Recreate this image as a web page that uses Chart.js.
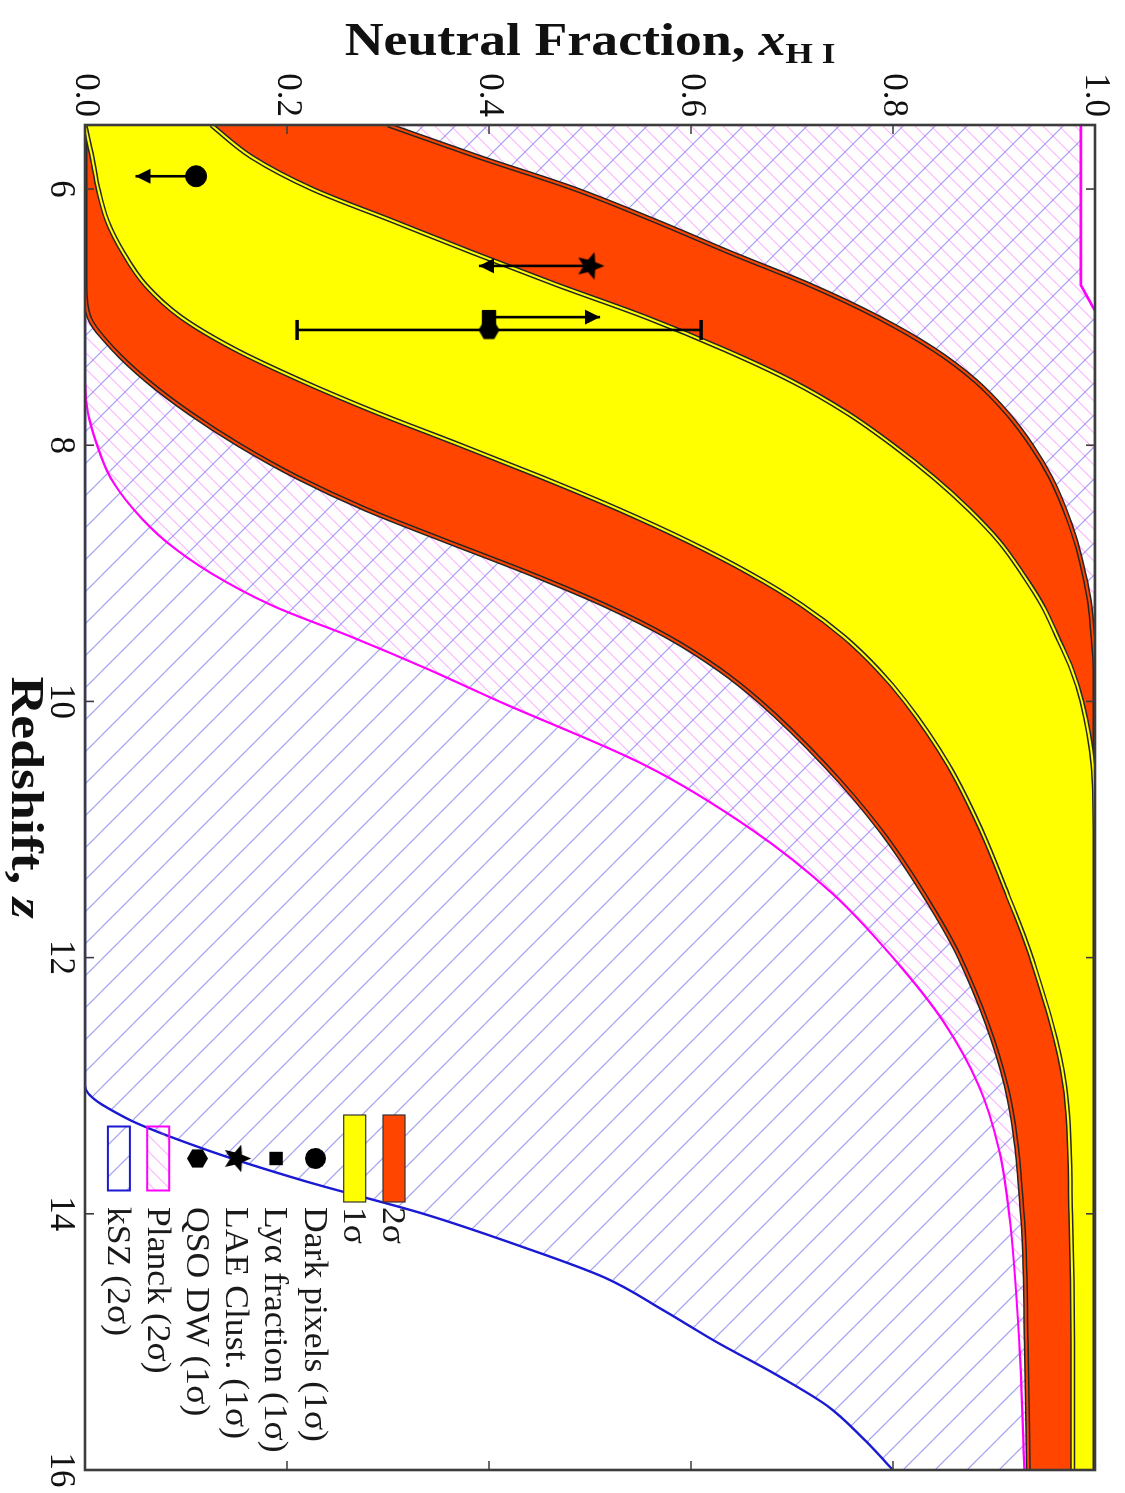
<!DOCTYPE html>
<html>
<head>
<meta charset="utf-8">
<title>Reionization history</title>
<script src="https://cdn.jsdelivr.net/npm/chart.js@4.4.1/dist/chart.umd.min.js"></script>
<style>
  html, body { margin: 0; padding: 0; background: #fff; width: 1125px; height: 1493px; overflow: hidden; }
  /* the figure is laid out landscape and turned a quarter clockwise onto the page */
  #turn { position: absolute; left: 0; top: 0; width: 1493px; height: 1125px;
          transform-origin: 0 0; transform: translate(1125px, 0) rotate(90deg); }
</style>
</head>
<body>
<div id="turn"><canvas id="xhi-chart" width="1493" height="1125"></canvas></div>
<script>
(function () {
    "use strict";

    var SERIF = "'Liberation Serif', 'Times New Roman', serif";
    var ORANGE = '#ff4500', YELLOW = '#ffff00', EDGE = '#262626';
    var MAGENTA = '#ff00ff', BLUE = '#1a1ad2';

    /** Redshift grid shared by the 1σ / 2σ bands */
    var zBand     = [5.5, 5.75, 6.0, 6.25, 6.5, 6.75, 7.0, 7.25, 7.5, 7.75, 8.0, 8.25, 8.5, 8.75, 9.0, 9.25, 9.5, 9.75, 10.0, 10.5, 11.0, 11.5, 12.0, 13.0, 14.0, 15.0, 16.0];
    var sig2Upper = [0.30, 0.39, 0.485, 0.565, 0.64, 0.718, 0.785, 0.84, 0.882, 0.913, 0.937, 0.956, 0.97, 0.981, 0.989, 0.995, 0.998, 1.0, 1.0, 1.0, 1.0, 1.0, 1.0, 1.0, 1.0, 1.0, 1.0];
    var sig1Upper = [0.125, 0.165, 0.225, 0.305, 0.385, 0.468, 0.555, 0.632, 0.70, 0.755, 0.80, 0.84, 0.875, 0.905, 0.928, 0.948, 0.963, 0.977, 0.987, 0.998, 1.0, 1.0, 1.0, 1.0, 1.0, 1.0, 1.0];
    var sig1Lower = [0.0, 0.007, 0.013, 0.022, 0.038, 0.06, 0.095, 0.148, 0.215, 0.29, 0.372, 0.452, 0.528, 0.597, 0.658, 0.71, 0.752, 0.785, 0.812, 0.855, 0.887, 0.913, 0.937, 0.97, 0.976, 0.978, 0.978];
    var sig2Lower = [0, 0, 0, 0, 0, 0, 0.004, 0.028, 0.062, 0.104, 0.153, 0.21, 0.278, 0.358, 0.44, 0.515, 0.578, 0.628, 0.668, 0.733, 0.787, 0.83, 0.866, 0.912, 0.928, 0.932, 0.934];

    /** Planck 2σ region */
    var zPlanck     = [5.5, 7.0, 7.5, 7.75, 8.0, 8.25, 8.5, 8.75, 9.0, 9.25, 9.5, 9.75, 10.0, 10.5, 11.0, 11.5, 12.0, 12.5, 13.0, 13.5, 14.0, 15.0, 16.0];
    var planckLower = [0, 0, 0, 0.003, 0.012, 0.025, 0.048, 0.08, 0.125, 0.185, 0.265, 0.34, 0.41, 0.555, 0.66, 0.74, 0.8, 0.85, 0.885, 0.905, 0.915, 0.925, 0.93];
    var zPlanckTop  = [5.5, 6.75, 6.95, 16.0];
    var planckUpper = [0.986, 0.986, 1.0, 1.0];

    /** kSZ 2σ region (lower bound, open to x_HI = 1) */
    var zKsz     = [5.5, 12.5, 13.0, 13.25, 13.5, 13.75, 14.0, 14.25, 14.5, 14.75, 15.0, 15.25, 15.5, 15.75, 16.0];
    var kszLower = [0, 0, 0, 0.04, 0.12, 0.22, 0.335, 0.43, 0.515, 0.572, 0.625, 0.683, 0.735, 0.77, 0.80];

    /** Individual probes */
    var probeLabels  = ['Dark pixels (1σ)', 'Lyα fraction (1σ)', 'LAE Clust. (1σ)', 'QSO DW (1σ)'];
    var probeZ       = [5.9, 7.0, 6.6, 7.1];
    var probeX       = [0.11, 0.40, 0.50, 0.40];
    var probeErrLow  = [0.06, 0, 0.11, 0.19];
    var probeErrHigh = [0, 0.11, 0, 0.21];
    var probeLimit   = ['upper', 'lower', 'upper', ''];

    var zTicks = [6, 8, 10, 12, 14, 16];
    var xTicks = [0, 0.2, 0.4, 0.6, 0.8, 1.0];
    var legendLabels = ['2σ', '1σ', 'Dark pixels (1σ)', 'Lyα fraction (1σ)', 'LAE Clust. (1σ)', 'QSO DW (1σ)', 'Planck (2σ)', 'kSZ (2σ)'];

    var TITLE_STRETCH = 1.17, LEGEND_STRETCH = 1.08;

    function pts(zs, vals) {
        return zs.map(function (z, i) { return {x: z, y: vals[i]}; });
    }

    /** Diagonal hatch as a repeating pattern */
    function hatch(color, gap, width, rising) {
        var c = document.createElement('canvas');
        c.width = gap; c.height = gap;
        var g = c.getContext('2d');
        g.strokeStyle = color;
        g.lineWidth = width;
        g.beginPath();
        for (var k = -1; k <= 1; k++) {
            if (rising) {
                g.moveTo(k * gap, gap); g.lineTo(k * gap + gap, 0);
            } else {
                g.moveTo(k * gap, 0); g.lineTo(k * gap + gap, gap);
            }
        }
        g.stroke();
        return g.createPattern(c, 'repeat');
    }

    function polygonMarker(r, n, inner) {
        var s = Math.ceil(2 * r + 2);
        var c = document.createElement('canvas');
        c.width = s; c.height = s;
        var g = c.getContext('2d');
        var steps = inner ? 2 * n : n;
        g.translate(s / 2, s / 2);
        g.beginPath();
        for (var k = 0; k < steps; k++) {
            var rad = (inner && k % 2) ? r * inner : r;
            var ang = -Math.PI / 2 + k * 2 * Math.PI / steps;
            g.lineTo(rad * Math.cos(ang), rad * Math.sin(ang));
        }
        g.closePath();
        g.fillStyle = '#000';
        g.fill();
        return c;
    }

    var kszHatch = hatch('rgba(60,60,220,0.5)', 32, 1.2, false);
    var planckHatch = hatch('rgba(255,70,255,0.42)', 16, 1.1, true);
    var starImg = polygonMarker(14.5, 5, 0.45);
    var hexImg = polygonMarker(10.5, 6, 0);

    var probeStyles = [
        {pointStyle: 'circle', pointRadius: 10.5},
        {pointStyle: 'rect', pointRadius: 9.5},
        {pointStyle: starImg, pointRadius: 14},
        {pointStyle: hexImg, pointRadius: 10}
    ];

    function curve(data, color, width, order, extra) {
        var ds = {
            data: data, borderColor: color, borderWidth: width, pointRadius: 0,
            fill: false, cubicInterpolationMode: 'monotone', clip: 0, order: order
        };
        return Object.assign(ds, extra || {});
    }

    var datasets = [];
    function add(ds) { datasets.push(ds); return datasets.length - 1; }

    /** Hatched CMB constraints */
    add(curve(pts(zKsz, kszLower), BLUE, 2.4, 30, {fill: 'end', backgroundColor: kszHatch}));
    add(curve(pts(zPlanck, planckLower), MAGENTA, 2.2, 29, {fill: 'end', backgroundColor: planckHatch}));
    add(curve(pts(zPlanckTop, planckUpper), MAGENTA, 2.6, 28,
        {fill: 'end', backgroundColor: '#ffffff', cubicInterpolationMode: 'default', tension: 0}));

    /** 2σ band: fill, dark edges, thin orange core in each edge */
    var s2lo = add(curve(pts(zBand, sig2Lower), EDGE, 5, 26));
    add(curve(pts(zBand, sig2Upper), EDGE, 5, 26));
    add(curve(pts(zBand, sig2Upper), 'rgba(0,0,0,0)', 1, 27, {fill: s2lo, backgroundColor: ORANGE}));
    add(curve(pts(zBand, sig2Lower), ORANGE, 2, 25));
    add(curve(pts(zBand, sig2Upper), ORANGE, 2, 25));

    /** 1σ band */
    var s1lo = add(curve(pts(zBand, sig1Lower), EDGE, 5, 23));
    add(curve(pts(zBand, sig1Upper), EDGE, 5, 23));
    add(curve(pts(zBand, sig1Upper), 'rgba(0,0,0,0)', 1, 24, {fill: s1lo, backgroundColor: YELLOW}));
    add(curve(pts(zBand, sig1Lower), YELLOW, 2, 22));
    add(curve(pts(zBand, sig1Upper), YELLOW, 2, 22));

    /** Probe markers */
    probeLabels.forEach(function (label, i) {
        add(Object.assign({
            label: label, data: [{x: probeZ[i], y: probeX[i]}], showLine: false,
            backgroundColor: '#000', borderColor: '#000', borderWidth: 1, order: 1
        }, probeStyles[i]));
    });

    function arrowHead(ctx, x, tip, dir) {
        ctx.beginPath();
        ctx.moveTo(x, tip);
        ctx.lineTo(x - 7.5, tip - dir * 15);
        ctx.lineTo(x + 7.5, tip - dir * 15);
        ctx.closePath();
        ctx.fill();
    }

    function cap(ctx, x, y) {
        ctx.save();
        ctx.lineWidth = 3.5;
        ctx.beginPath(); ctx.moveTo(x - 10, y); ctx.lineTo(x + 10, y); ctx.stroke();
        ctx.restore();
    }

    /** Error bars and limit arrows for the probes */
    var probeBars = {
        id: 'probeBars',
        afterDatasetsDraw: function (chart) {
            var ctx = chart.ctx, xs = chart.scales.x, ys = chart.scales.y;
            ctx.save();
            ctx.strokeStyle = '#000';
            ctx.fillStyle = '#000';
            ctx.lineWidth = 2.6;
            probeZ.forEach(function (z, i) {
                var px = xs.getPixelForValue(z);
                var lo = ys.getPixelForValue(probeX[i] - probeErrLow[i]);
                var hi = ys.getPixelForValue(probeX[i] + probeErrHigh[i]);
                ctx.beginPath(); ctx.moveTo(px, lo); ctx.lineTo(px, hi); ctx.stroke();
                if (probeLimit[i] === 'upper') {
                    arrowHead(ctx, px, lo, 1);
                } else if (probeLimit[i] === 'lower') {
                    arrowHead(ctx, px, hi, -1);
                } else {
                    cap(ctx, px, lo); cap(ctx, px, hi);
                }
            });
            ctx.restore();
        }
    };

    /** Box and inward ticks on all four sides */
    var frame = {
        id: 'frame',
        afterDatasetsDraw: function (chart) {
            var ctx = chart.ctx, a = chart.chartArea, xs = chart.scales.x, ys = chart.scales.y, L = 9;
            ctx.save();
            ctx.strokeStyle = '#3c3c3c';
            ctx.lineWidth = 1.6;
            ctx.beginPath();
            zTicks.forEach(function (z) {
                var p = xs.getPixelForValue(z);
                ctx.moveTo(p, a.bottom); ctx.lineTo(p, a.bottom - L);
                ctx.moveTo(p, a.top); ctx.lineTo(p, a.top + L);
            });
            xTicks.forEach(function (v) {
                var p = ys.getPixelForValue(v);
                ctx.moveTo(a.left, p); ctx.lineTo(a.left + L, p);
                ctx.moveTo(a.right, p); ctx.lineTo(a.right - L, p);
            });
            ctx.stroke();
            ctx.lineWidth = 2.6;
            ctx.strokeRect(a.left, a.top, a.right - a.left, a.bottom - a.top);
            ctx.restore();
        }
    };

    function drawRun(ctx, parts, cx, baseline, stretch) {
        var total = 0;
        parts.forEach(function (p) { ctx.font = p.font; p.w = ctx.measureText(p.text).width; total += p.w; });
        ctx.save();
        ctx.translate(cx - total * stretch / 2, baseline);
        ctx.scale(stretch, 1);
        var x = 0;
        parts.forEach(function (p) {
            ctx.font = p.font;
            ctx.fillText(p.text, x, p.dy || 0);
            x += p.w;
        });
        ctx.restore();
    }

    /** Axis titles */
    var titles = {
        id: 'titles',
        afterDraw: function (chart) {
            var ctx = chart.ctx, a = chart.chartArea;
            ctx.save();
            ctx.fillStyle = '#111';
            ctx.textBaseline = 'alphabetic';
            drawRun(ctx, [
                {text: 'Redshift, ', font: 'bold 46px ' + SERIF},
                {text: 'z', font: 'italic bold 46px ' + SERIF}
            ], (a.left + a.right) / 2, 1113, TITLE_STRETCH);

            ctx.translate(55, (a.top + a.bottom) / 2);
            ctx.rotate(-Math.PI / 2);
            drawRun(ctx, [
                {text: 'Neutral Fraction, ', font: 'bold 46px ' + SERIF},
                {text: 'x', font: 'italic bold 46px ' + SERIF},
                {text: 'H I', font: 'bold 30px ' + SERIF, dy: 8}
            ], 0, 0, TITLE_STRETCH);
            ctx.restore();
        }
    };

    function legendMarker(ctx, i, cx, cy) {
        ctx.fillStyle = '#000';
        if (i === 0) {
            ctx.beginPath(); ctx.arc(cx, cy, 10.5, 0, 2 * Math.PI); ctx.fill();
        } else if (i === 1) {
            ctx.fillRect(cx - 6.7, cy - 6.7, 13.4, 13.4);
        } else {
            var img = i === 2 ? starImg : hexImg;
            ctx.drawImage(img, cx - img.width / 2, cy - img.height / 2);
        }
    }

    var legendBox = {
        id: 'legendBox',
        afterDraw: function (chart) {
            var ctx = chart.ctx, a = chart.chartArea;
            var x0 = a.left + 990, cx = x0 + 43.5, y0 = a.top + 701, step = 39.3;
            ctx.save();
            legendLabels.forEach(function (label, i) {
                var cy = y0 + i * step;
                if (i < 2) {
                    ctx.fillStyle = i === 0 ? ORANGE : YELLOW;
                    ctx.fillRect(x0, cy - 11, 87, 22);
                    ctx.strokeStyle = '#333';
                    ctx.lineWidth = 1.2;
                    ctx.strokeRect(x0, cy - 11, 87, 22);
                } else if (i < 6) {
                    legendMarker(ctx, i - 2, cx, cy);
                } else {
                    ctx.fillStyle = i === 6 ? planckHatch : kszHatch;
                    ctx.fillRect(cx - 32, cy - 11, 64, 22);
                    ctx.strokeStyle = i === 6 ? MAGENTA : BLUE;
                    ctx.lineWidth = 2;
                    ctx.strokeRect(cx - 32, cy - 11, 64, 22);
                }
                ctx.save();
                ctx.translate(x0 + 92, cy + 2);
                ctx.scale(LEGEND_STRETCH, 1);
                ctx.font = '33px ' + SERIF;
                ctx.fillStyle = '#1a1a1a';
                ctx.textBaseline = 'middle';
                ctx.fillText(label, 0, 0);
                ctx.restore();
            });
            ctx.restore();
        }
    };

    Chart.defaults.font.family = SERIF;

    var ctx = document.getElementById('xhi-chart').getContext('2d');
    var xhiChart = new Chart(ctx, {
        type: 'line',
        data: {datasets: datasets},
        options: {
            responsive: false,
            animation: false,
            devicePixelRatio: 1,
            events: [],
            layout: {padding: {top: 30, right: 23, left: 0, bottom: 0}},
            plugins: {legend: {display: false}, tooltip: {enabled: false}},
            scales: {
                x: {
                    type: 'linear', min: 5.5, max: 16,
                    grid: {display: false, drawTicks: false},
                    border: {display: false},
                    afterBuildTicks: function (s) { s.ticks = zTicks.map(function (v) { return {value: v}; }); },
                    afterFit: function (s) { s.height = 85; },
                    ticks: {
                        font: {family: SERIF, size: 35}, color: '#111', padding: 4,
                        maxRotation: 0, autoSkip: false,
                        callback: function (v) { return String(v); }
                    }
                },
                y: {
                    type: 'linear', min: 0, max: 1,
                    grid: {display: false, drawTicks: false},
                    border: {display: false},
                    afterBuildTicks: function (s) { s.ticks = xTicks.map(function (v) { return {value: v}; }); },
                    afterFit: function (s) { s.width = 125; },
                    ticks: {
                        font: {family: SERIF, size: 35}, color: '#111', padding: 8, autoSkip: false,
                        callback: function (v) { return v.toFixed(1); }
                    }
                }
            }
        },
        plugins: [probeBars, frame, titles, legendBox]
    });
})();
</script>
</body>
</html>
